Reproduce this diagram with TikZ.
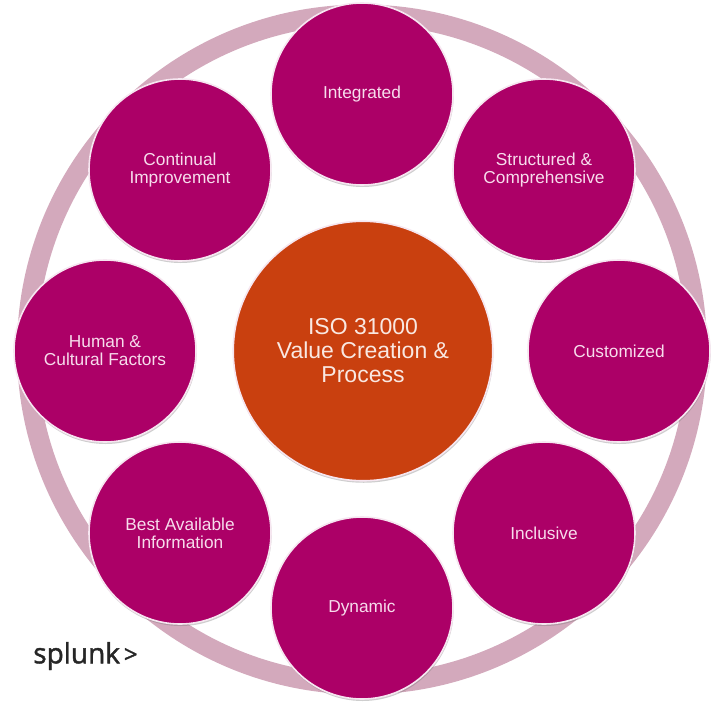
\documentclass[tikz,border=0pt]{standalone}
\usepackage{fontspec}
\setmainfont{Liberation Sans}
\newfontfamily\logofont[FakeBold=1.6]{Open Sans}
\usepackage{xcolor}
\usetikzlibrary{positioning,shadows}
\definecolor{ringpink}{HTML}{D3A9BC}
\definecolor{plum}{HTML}{AC0067}
\definecolor{rust}{HTML}{C9400F}
\definecolor{bordergray}{HTML}{F6E6F0}
\definecolor{labelpink}{HTML}{F7DCEC}
\begin{document}
\begin{tikzpicture}[x=1pt,y=-1pt,
softshadow/.style={drop shadow={shadow xshift=0.6pt,shadow yshift=-2pt,opacity=.35,fill=black!55}},
pn/.style={circle,draw=bordergray,line width=1.6pt,fill=plum,minimum size=182pt,inner sep=0pt,align=center,text=labelpink,softshadow,font=\fontsize{17.3}{18}\selectfont},
cn/.style={circle,draw=bordergray,line width=1.6pt,fill=rust,minimum size=259.5pt,inner sep=0pt,align=center,text=white!88!rust,softshadow,font=\fontsize{23}{24}\selectfont}]
\useasboundingbox (0,0) rectangle (720,712);
\node[circle,draw=ringpink,line width=20pt,fill=white,minimum size=670pt,inner sep=0pt] (ring) at (362,349.5) {};
\node[cn] (iso) at (363,351) {ISO 31000\\Value Creation \&\\Process};
\node[pn] (integ) at (362,94) {Integrated};
\node[pn] (struct) at (544,170) {Structured \&\\Comprehensive};
\node[pn] (custom) at (619,351) {Customized};
\node[pn] (incl) at (544,533) {Inclusive};
\node[pn] (dyn) at (362,608) {Dynamic};
\node[pn] (best) at (180,533) {Best Available\\Information};
\node[pn] (human) at (105,351) {Human \&\\Cultural Factors};
\node[pn] (cont) at (180,170) {Continual\\Improvement};
\node[font=\logofont\fontsize{28}{28}\selectfont,text=black!85] (splunk) at (85.5,656) {splunk\hspace{4pt}\raisebox{0.5pt}{\fontsize{24}{24}\selectfont >}};
\end{tikzpicture}
\end{document}
